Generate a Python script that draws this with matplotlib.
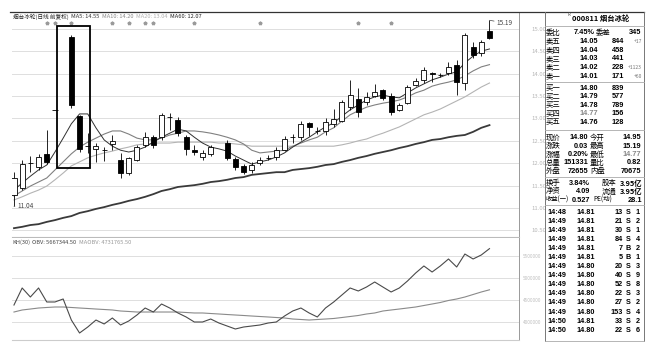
import numpy as np
import matplotlib.pyplot as plt
from matplotlib.patches import Rectangle
from matplotlib.lines import Line2D

plt.rcParams['font.family'] = ['Noto Sans CJK SC', 'DejaVu Sans']

nan = np.nan
# 日K线 (开/高/低/收), nan = 空位
opens = [11.29, 11.45, 12.01, 11.92, 12.21, 13.19, nan, 14.82, 13.05, 12.39,
         12.32, 12.30, 12.43, 12.07, 11.78, 12.07, 12.41, 12.58, 12.58, 13.04,
         12.96, 12.58, 12.29, 12.14, 12.21, nan, 12.45, 12.09, 11.94, 11.85,
         12.00, 12.11, 12.14, 12.29, 12.59, 12.58, 12.90, 12.72, 12.72, 12.88,
         12.94, 13.25, 13.43, 13.37, 13.50, 13.63, 13.50, 13.19, 13.34, 13.75,
         13.86, 14.01, 13.97, 14.01, 14.19, 13.79, 14.59, 14.46, 14.95]
highs = [11.80, 12.07, 12.16, 12.21, 12.74, 13.19, nan, 14.86, 13.08, 12.67,
         12.45, 12.36, 12.63, 12.23, 12.14, 12.41, 12.70, 12.63, 13.12, 13.12,
         13.03, 12.63, 12.41, 12.29, 12.41, nan, 12.52, 12.14, 11.98, 12.03,
         12.14, 12.18, 12.36, 12.61, 12.65, 12.94, 12.92, 12.81, 13.01, 13.21,
         13.41, 13.86, 13.68, 13.59, 13.77, 13.66, 13.57, 13.34, 13.75, 13.90,
         14.15, 14.04, 14.01, 14.26, 14.30, 14.91, 14.71, 14.75, 15.19]
lows = [11.04, 11.40, 11.80, 11.85, 11.98, 13.19, nan, 13.23, 12.25, 12.23,
        12.03, 12.05, 12.29, 11.67, 11.74, 12.05, 12.36, 12.34, 12.52, 12.74,
        12.61, 12.18, 12.18, 12.07, 12.16, nan, 12.07, 11.85, 11.76, 11.78,
        11.96, 12.07, 12.07, 12.27, 12.45, 12.52, 12.61, 12.65, 12.63, 12.81,
        12.92, 13.19, 13.03, 13.30, 13.48, 13.41, 13.08, 13.17, 13.32, 13.72,
        13.79, 13.81, 13.92, 13.97, 13.52, 13.63, 14.35, 14.39, 14.77]
closes = [11.67, 11.98, 12.00, 12.14, 12.03, 13.19, nan, 13.30, 12.32, 12.38,
          12.38, 12.29, 12.50, 11.78, 12.12, 12.36, 12.58, 12.41, 13.08, 13.03,
          12.67, 12.32, 12.25, 12.23, 12.36, nan, 12.12, 11.92, 11.80, 11.96,
          12.07, 12.12, 12.29, 12.54, 12.58, 12.88, 12.81, 12.72, 12.92, 12.99,
          13.37, 13.52, 13.14, 13.48, 13.59, 13.46, 13.14, 13.30, 13.70, 13.83,
          14.08, 13.99, 13.97, 14.15, 13.81, 14.86, 14.42, 14.71, 14.80]

ma5 = [11.40, 11.56, 11.71, 11.85, 11.96, 12.25, 12.56, 12.88, 13.10, 13.10,
       12.79, 12.52, 12.38, 12.29, 12.25, 12.29, 12.36, 12.47, 12.58, 12.67,
       12.76, 12.72, 12.58, 12.45, 12.36, 12.32, 12.27, 12.16, 12.07, 11.98,
       12.03, 12.07, 12.14, 12.23, 12.36, 12.47, 12.58, 12.70, 12.81, 12.90,
       13.05, 13.19, 13.30, 13.41, 13.48, 13.52, 13.48, 13.46, 13.57, 13.68,
       13.77, 13.86, 13.92, 13.99, 14.04, 14.24, 14.39, 14.50, 14.55]
ma10 = [11.27, 11.38, 11.49, 11.58, 11.67, 11.85, 12.03, 12.21, 12.36, 12.47,
        12.56, 12.65, 12.72, 12.72, 12.65, 12.56, 12.52, 12.52, 12.56, 12.63,
        12.67, 12.72, 12.72, 12.70, 12.67, 12.63, 12.58, 12.52, 12.43, 12.29,
        12.23, 12.25, 12.27, 12.29, 12.38, 12.45, 12.52, 12.58, 12.70, 12.79,
        12.94, 13.08, 13.17, 13.25, 13.30, 13.34, 13.37, 13.41, 13.48, 13.57,
        13.63, 13.72, 13.77, 13.81, 13.86, 13.95, 14.06, 14.15, 14.20]
ma20 = [11.18, 11.25, 11.33, 11.40, 11.49, 11.63, 11.78, 11.94, 12.03, 12.12,
        12.18, 12.23, 12.27, 12.32, 12.36, 12.41, 12.43, 12.45, 12.45, 12.45,
        12.47, 12.47, 12.47, 12.47, 12.47, 12.45, 12.45, 12.43, 12.41, 12.38,
        12.38, 12.38, 12.38, 12.38, 12.38, 12.38, 12.38, 12.38, 12.38, 12.38,
        12.41, 12.45, 12.50, 12.54, 12.61, 12.67, 12.74, 12.81, 12.90, 12.99,
        13.08, 13.14, 13.21, 13.30, 13.39, 13.48, 13.59, 13.70, 13.79]
ma60 = [10.55, 10.58, 10.62, 10.64, 10.69, 10.73, 10.78, 10.82, 10.89, 10.93,
        10.98, 11.02, 11.07, 11.11, 11.16, 11.20, 11.25, 11.31, 11.38, 11.42,
        11.47, 11.49, 11.51, 11.54, 11.58, 11.60, 11.63, 11.67, 11.69, 11.74,
        11.76, 11.78, 11.80, 11.80, 11.85, 11.87, 11.89, 11.92, 11.96, 11.98,
        12.03, 12.07, 12.12, 12.16, 12.21, 12.25, 12.29, 12.34, 12.38, 12.43,
        12.47, 12.52, 12.54, 12.58, 12.61, 12.63, 12.70, 12.79, 12.85]

obv = [4386000, 4773000, 4568000, 4773000, 4455000, 4455000, 4523000, 4045000, 3750000, 3886000,
       4045000, 3955000, 4091000, 3932000, 4023000, 4159000, 4318000, 4227000, 4409000, 4318000,
       4205000, 4114000, 4000000, 4000000, 4068000, 3977000, 3909000, 3841000, 3886000, 3909000,
       3932000, 3977000, 4000000, 4136000, 4250000, 4318000, 4205000, 4114000, 4318000, 4455000,
       4614000, 4773000, 4705000, 4795000, 4909000, 4795000, 4682000, 4773000, 4932000, 5114000,
       5273000, 5136000, 5273000, 5432000, 5250000, 5545000, 5432000, 5523000, 5667344.5]
maobv = [4227000, 4273000, 4295000, 4318000, 4330000, 4341000, 4341000, 4330000, 4318000, 4307000,
         4295000, 4284000, 4273000, 4250000, 4239000, 4227000, 4227000, 4227000, 4227000, 4227000,
         4227000, 4216000, 4205000, 4205000, 4193000, 4182000, 4170000, 4159000, 4148000, 4136000,
         4125000, 4114000, 4102000, 4091000, 4068000, 4057000, 4045000, 4057000, 4068000, 4080000,
         4102000, 4125000, 4148000, 4182000, 4205000, 4250000, 4273000, 4295000, 4318000, 4341000,
         4375000, 4409000, 4443000, 4489000, 4523000, 4568000, 4625000, 4682000, 4731765.5]

mark_idx = [4, 5, 7, 12, 14, 16, 17, 22, 30, 42, 46]
price_ticks = [10.5, 11.0, 11.5, 12.0, 12.5, 13.0, 13.5, 14.0, 14.5, 15.0]
obv_ticks = [4.0e6, 4.5e6, 5.0e6, 5.5e6]

# 标题
title_parts = [('烟台冰轮(日线 前复权)', '#222'), ('MA5: 14.55', '#333'), ('MA10: 14.20', '#888'),
               ('MA20: 13.04', '#b0b0b0'), ('MA60: 12.07', '#222')]
sub_parts = [('KH(30)', '#444'), ('OBV: 5667344.50', '#444'), ('MAOBV: 4731765.50', '#999')]

# 盘口
head = '000811 烟台冰轮'
book_labels = ['卖五', '卖四', '卖三', '卖二', '卖一', '买一', '买二', '买三', '买四', '买五']
book_prices = ['14.05', '14.04', '14.03', '14.02', '14.01', '14.80', '14.79', '14.78', '14.77', '14.76']
book_vols = ['844', '458', '441', '228', '171', '839', '577', '789', '156', '128']
book_chg = ['+17', '', '', '+1123', '+60', '', '', '', '', '']
quote_rows = [('现价', '14.80', '今开', '14.95'), ('涨跌', '0.03', '最高', '15.19'),
              ('涨幅', '0.20%', '最低', '14.77'), ('总量', '151331', '量比', '0.82'),
              ('外盘', '72655', '内盘', '70675')]
info_rows = [('换手', '3.84%', '股本', '3.95亿'), ('净资', '4.09', '流通', '3.95亿'),
             ('收益(一)', '0.527', 'PE(动)', '28.1')]
tick_times = ['14:48'] + ['14:49'] * 11 + ['14:50', '14:50']
tick_prices = ['14.81'] * 6 + ['14.80'] * 6 + ['14.81', '14.80']
tick_vols = [13, 21, 30, 84, 7, 5, 20, 40, 52, 22, 27, 153, 33, 22]
tick_sides = ['S', 'S', 'S', 'S', 'B', 'B', 'S', 'S', 'S', 'S', 'S', 'S', 'S', 'S']
tick_counts = [1, 2, 1, 4, 2, 1, 3, 9, 8, 3, 2, 4, 2, 6]

W, H = 654, 350


def fx(px):
    return px / W


def fy(py):
    return 1 - py / H


fig = plt.figure(figsize=(W / 100, H / 100), dpi=100)
ax = fig.add_axes([fx(12), fy(237), 507 / W, 225 / H])
ax2 = fig.add_axes([fx(12), fy(340), 507 / W, 102 / H])
renderer = fig.canvas.get_renderer()

x = np.arange(len(opens))
o, h, l, c = (np.array(v, dtype=float) for v in (opens, highs, lows, closes))
valid = ~np.isnan(o)
up = valid & (c > o)
dn = valid & (c <= o)
body = np.maximum(np.abs(c - o), 0.004)

for p in price_ticks:
    ax.axhline(p, color='#dedede', lw=0.7, zorder=0)
ax.vlines(x[valid], l[valid], h[valid], color='black', lw=0.6, zorder=2)
ax.bar(x[up], body[up], bottom=o[up], width=0.62, facecolor='white', edgecolor='black', lw=0.6, zorder=3)
ax.bar(x[dn], body[dn], bottom=c[dn], width=0.62, facecolor='black', edgecolor='black', lw=0.6, zorder=3)

ax.plot(x, ma20, color='#b4b4b4', lw=0.8, zorder=1)
ax.plot(x, ma10, color='#808080', lw=0.8, zorder=1)
ax.plot(x, ma5, color='#303030', lw=0.7, zorder=1)
ax.plot(x, ma60, color='#3a3a3a', lw=1.3, zorder=1)

ax.plot(mark_idx, [0.951] * len(mark_idx), ls='none', marker='*', ms=2.6, color='#9a9a9a',
        transform=ax.get_xaxis_transform())

# 框出的K线
ax.add_patch(Rectangle((5.25, 11.89), 4.0, 15.06 - 11.89, fill=False, ec='black', lw=1.3, zorder=4))

ax.annotate('15.19', xy=(58, 15.19), xytext=(58.9, 15.13), fontsize=4.6, color='#444', va='center',
            arrowprops=dict(arrowstyle='-', lw=0.5, color='#444', shrinkA=0, shrinkB=0))
ax.annotate('11.04', xy=(0, 11.04), xytext=(0.45, 11.04), fontsize=4.6, color='#444', va='center',
            arrowprops=dict(arrowstyle='-', lw=0.5, color='#444', shrinkA=0, shrinkB=0))

ax.set_xlim(-0.24, 61.6)
ax.set_ylim(10.353, 15.375)
ax.set_xticks([])
ax.yaxis.tick_right()
ax.set_yticks(price_ticks)
ax.set_yticklabels([f'{p:.2f}' for p in price_ticks])
ax.tick_params(axis='y', length=0, labelsize=4.3, labelcolor='#b8b8b8', pad=9)
for s in ('left', 'top'):
    ax.spines[s].set_visible(False)
ax.spines['right'].set_color('#999999')
ax.spines['right'].set_linewidth(0.7)
ax.spines['bottom'].set_color('#bbbbbb')
ax.spines['bottom'].set_linewidth(0.8)

# OBV
for v in obv_ticks:
    ax2.axhline(v, color='#dedede', lw=0.7, zorder=0)
ax2.plot(x, maobv, color='#8a8a8a', lw=0.8)
ax2.plot(x, obv, color='#4a4a4a', lw=0.8)
ax2.set_xlim(-0.24, 61.6)
ax2.set_ylim(3.591e6, 5.909e6)
ax2.set_xticks([])
ax2.yaxis.tick_right()
ax2.set_yticks(obv_ticks)
ax2.set_yticklabels([f'{v:.0f}' for v in obv_ticks])
ax2.tick_params(axis='y', length=0, labelsize=3.4, labelcolor='#c0c0c0', pad=3)
for s in ('left', 'top'):
    ax2.spines[s].set_visible(False)
ax2.spines['right'].set_color('#999999')
ax2.spines['right'].set_linewidth(0.7)
ax2.spines['bottom'].set_color('#cccccc')


def chain(parts, px, py, fs):
    # 依次排开, 不重叠
    for s, col in parts:
        t = fig.text(fx(px), fy(py), s, fontsize=fs, va='center', color=col)
        px = t.get_window_extent(renderer).x1 + 2.5


chain(title_parts, 13, 16.5, 4.1)
chain(sub_parts, 12, 242.5, 4.1)

# 边框
fig.add_artist(Line2D([fx(10), fx(644)], [fy(12), fy(12)], color='#333', lw=0.9))
fig.add_artist(Line2D([fx(545), fx(545)], [fy(12), fy(341)], color='#777', lw=0.7))
fig.add_artist(Line2D([fx(644), fx(644)], [fy(12), fy(341)], color='#777', lw=0.7))
for sy in (26, 82, 130.5, 177, 205, 341):
    fig.add_artist(Line2D([fx(545), fx(644)], [fy(sy), fy(sy)], color='#aaaaaa', lw=0.6))

# 盘口文字
tfs = 5.3


def cell(px, py, s, ha='left', color='black', bold=True, size=tfs):
    fam = ['Liberation Sans'] if s.isascii() else ['Noto Sans CJK SC', 'DejaVu Sans']
    fig.text(fx(px), fy(py), s, fontsize=size, ha=ha, va='center', color=color, family=fam,
             fontweight='bold' if bold else 'normal')


fig.text(fx(567), fy(15), 'R', fontsize=3.2, va='center', color='#444')
cell(572, 18.5, head)
cell(546, 33, '委比', bold=False)
cell(595, 33, '7.45%', ha='right')
cell(596, 33, '委差', bold=False)
cell(641, 33, '345', ha='right')

book_y = [41.6, 50.2, 58.8, 67.4, 76, 88, 96.6, 105.2, 113.8, 122.4]
for yy, lab, pr, vol, chg in zip(book_y, book_labels, book_prices, book_vols, book_chg):
    cell(546, yy, lab, bold=False)
    cell(598, yy, pr, ha='right', color='#888' if pr == '14.77' else 'black')
    cell(624, yy, vol, ha='right')
    if chg:
        fig.text(fx(642), fy(yy), chg, fontsize=3.6, ha='right', va='center', color='#777')

for k, (a, b, cc, d) in enumerate(quote_rows):
    yy = 137.5 + k * 8.5
    cell(546, yy, a, bold=False)
    cell(588, yy, b, ha='right')
    cell(590, yy, cc, bold=False)
    cell(641, yy, d, ha='right', color='#888' if (cc == '最低') else 'black')

for k, (a, b, cc, d) in enumerate(info_rows):
    yy = 183 + k * 8.5
    small = 4.5 if len(a) > 2 else tfs
    cell(546, yy, a, bold=False, size=small)
    cell(590, yy, b, ha='right')
    cell(602 if k < 2 else 593, yy, cc, bold=False, size=4.7 if k == 2 else tfs)
    cell(642, yy, d, ha='right')

for k in range(len(tick_times)):
    yy = 212 + k * 9.1
    cell(547, yy, tick_times[k], size=5.2)
    cell(595, yy, tick_prices[k], ha='right', size=5.2)
    cell(623, yy, str(tick_vols[k]), ha='right', size=5.2)
    cell(626, yy, tick_sides[k], size=5.2)
    cell(640, yy, str(tick_counts[k]), ha='right', size=5.2)

fig.savefig('out.png', dpi=100)
